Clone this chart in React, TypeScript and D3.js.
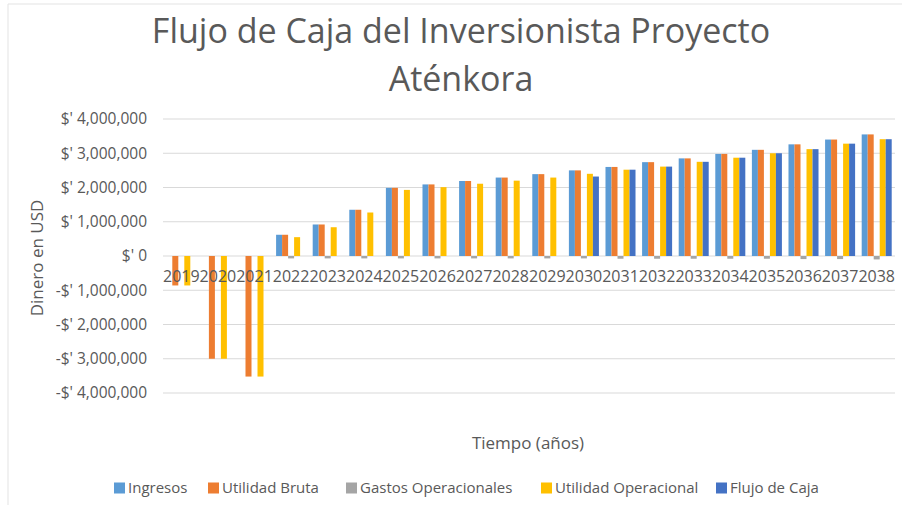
import React from 'react';
import * as d3 from 'd3';

const years = [
  '2019', '2020', '2021', '2022', '2023', '2024', '2025', '2026', '2027', '2028',
  '2029', '2030', '2031', '2032', '2033', '2034', '2035', '2036', '2037', '2038',
];

// values in USD
const ingresos = [
  0, 0, 0, 620000, 920000, 1350000, 1990000, 2090000, 2190000, 2290000,
  2390000, 2500000, 2600000, 2740000, 2850000, 2980000, 3100000, 3260000, 3400000, 3550000,
];
const utilidadBruta = [
  -860000, -3000000, -3520000, 620000, 920000, 1350000, 1990000, 2090000, 2190000, 2290000,
  2390000, 2500000, 2600000, 2740000, 2850000, 2980000, 3100000, 3260000, 3400000, 3550000,
];
const gastosOperacionales = [
  0, 0, 0, -70000, -70000, -70000, -70000, -70000, -70000, -70000,
  -70000, -70000, -80000, -80000, -80000, -80000, -80000, -90000, -90000, -100000,
];
const utilidadOperacional = [
  -860000, -3000000, -3520000, 550000, 840000, 1270000, 1930000, 2010000, 2110000, 2200000,
  2290000, 2400000, 2520000, 2610000, 2750000, 2870000, 3000000, 3120000, 3280000, 3410000,
];
const flujoDeCaja = [
  0, 0, 0, 0, 0, 0, 0, 0, 0, 0,
  0, 2320000, 2520000, 2610000, 2750000, 2870000, 3000000, 3120000, 3280000, 3410000,
];

const seriesNames = ['Ingresos', 'Utilidad Bruta', 'Gastos Operacionales', 'Utilidad Operacional', 'Flujo de Caja'];
const seriesValues = [ingresos, utilidadBruta, gastosOperacionales, utilidadOperacional, flujoDeCaja];
const seriesColors = ['#5B9BD5', '#ED7D31', '#A5A5A5', '#FFC000', '#4472C4'];
const yTicks = [4000000, 3000000, 2000000, 1000000, 0, -1000000, -2000000, -3000000, -4000000];

const font = '"Open Sans", sans-serif';
const textColor = '#595959';

const formatMoney = (v: number) => {
  const s = d3.format(',')(Math.abs(v));
  return v < 0 ? `-$' ${s}` : `$' ${s}`;
};

const App: React.FC = () => {
  const width = 902;
  const height = 514;
  const plot = { left: 163, right: 895, top: 119, bottom: 393 };

  const x0 = d3
    .scaleBand<string>()
    .domain(years)
    .range([plot.left, plot.right])
    .paddingInner(0.18)
    .paddingOuter(0.09);

  const x1 = d3
    .scaleBand<string>()
    .domain(seriesNames)
    .range([0, x0.bandwidth()]);

  const y = d3.scaleLinear().domain([-4000000, 4000000]).range([plot.bottom, plot.top]);

  const legendX = [114, 208, 346, 541, 716];

  return (
    <svg
      width={width}
      height={height}
      style={{ position: 'fixed', left: 0, top: 0, background: '#fff' }}
      fontFamily={font}
    >
      {/* chart frame */}
      <line x1={8} x2={width} y1={4} y2={4} stroke="#e3e3e3" />
      <line x1={8} x2={8} y1={4} y2={505} stroke="#e3e3e3" />

      {/* Title */}
      <text x={461} y={43} textAnchor="middle" fontSize={34} fill={textColor}>
        Flujo de Caja del Inversionista Proyecto
      </text>
      <text x={461} y={91} textAnchor="middle" fontSize={34} fill={textColor}>
        Aténkora
      </text>

      {/* gridlines + y labels */}
      {yTicks.map((t) => (
        <g key={t}>
          <line x1={plot.left} x2={plot.right} y1={y(t)} y2={y(t)} stroke="#d9d9d9" />
          <text
            x={147}
            y={y(t)}
            dy="0.35em"
            textAnchor="end"
            fontSize={15.5}
            fill={textColor}
          >
            {formatMoney(t)}
          </text>
        </g>
      ))}

      {/* bars */}
      {years.map((yr, i) => (
        <g key={yr} transform={`translate(${x0(yr)},0)`}>
          {seriesNames.map((s, j) => {
            const v = seriesValues[j][i];
            if (v === 0) return null;
            return (
              <rect
                key={s}
                x={x1(s)}
                y={Math.min(y(v), y(0))}
                width={x1.bandwidth()}
                height={Math.abs(y(v) - y(0))}
                fill={seriesColors[j]}
              />
            );
          })}
        </g>
      ))}

      {/* x labels */}
      {years.map((yr) => (
        <text
          key={yr}
          x={(x0(yr) as number) + x0.bandwidth() / 2}
          y={282}
          textAnchor="middle"
          fontSize={16}
          fill={textColor}
        >
          {yr}
        </text>
      ))}

      {/* axis titles */}
      <text
        transform={`translate(43,258) rotate(-90)`}
        textAnchor="middle"
        fontSize={17}
        fill={textColor}
      >
        Dinero en USD
      </text>
      <text x={528} y={449} textAnchor="middle" fontSize={17} fill={textColor}>
        Tiempo (años)
      </text>

      {/* legend */}
      {seriesNames.map((s, j) => (
        <g key={s} transform={`translate(${legendX[j]},488)`}>
          <rect x={0} y={-5.5} width={11} height={11} fill={seriesColors[j]} />
          <text x={14} y={0} dy="0.35em" fontSize={15} fill={textColor}>
            {s}
          </text>
        </g>
      ))}
    </svg>
  );
};

export default App;
